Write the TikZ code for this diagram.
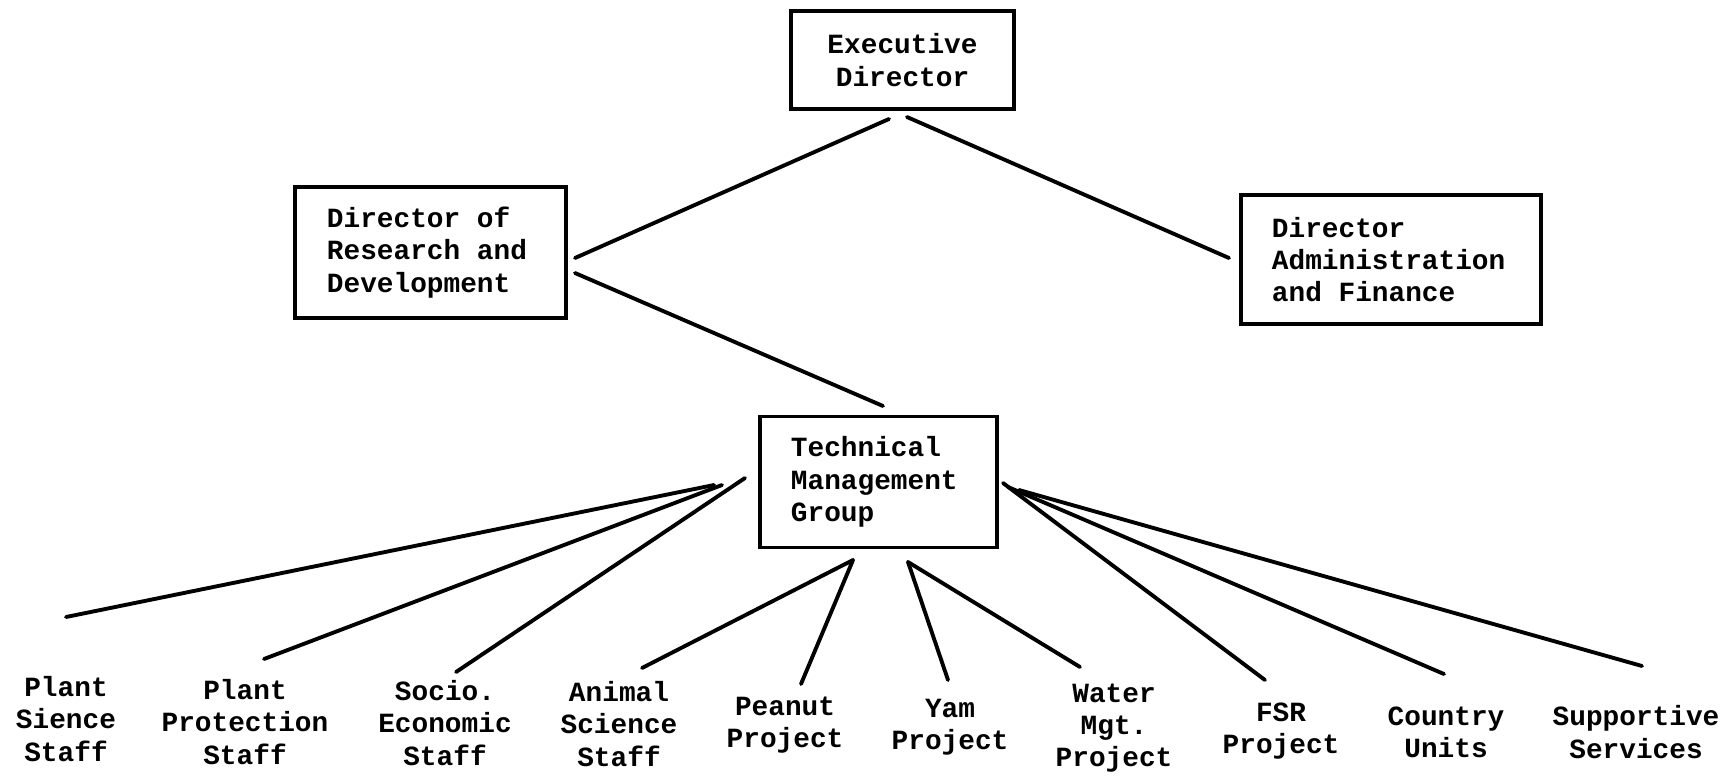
\documentclass[tikz,border=0pt]{standalone}
\usepackage{fontspec}
\setmainfont{Liberation Mono}
% fixed interword space of one character cell
\newcommand\cellspacing{\spaceskip=0.6em\relax}
\begin{document}
\begin{tikzpicture}[x=0.01cm, y=-0.01cm,
  every node/.style={font=\fontsize{7.9}{9.2}\selectfont\bfseries, execute at begin node=\cellspacing},
  unit/.style={draw, line width=1pt, inner ysep=0pt, align=left},
  label/.style={inner sep=0pt, align=center},
  link/.style={line width=1.1pt, line cap=round}]
\useasboundingbox (0,0) rectangle (1728,775);

% organisation boxes
\node[unit, align=center, inner xsep=0.33cm, text width=1.57cm, minimum height=0.98cm] (ed) at (902.5,60) {Executive\\Director};
\node[unit, inner xsep=0.32cm, text width=2.07cm, minimum height=1.31cm] (drd) at (430.5,252.5) {Director of\\Research and\\Development};
\node[unit, inner xsep=0.31cm, text width=2.38cm, minimum height=1.29cm] (daf) at (1391,259.5) {Director\\Administration\\and Finance};
\node[unit, inner xsep=0.31cm, text width=1.75cm, minimum height=1.31cm] (tmg) at (878.5,482) {Technical\\Management\\Group};

% staff and project units
\node[label] (ps)  at (66,719)   {Plant\\Sience\\Staff};
\node[label] (pp)  at (245,722)  {Plant\\Protection\\Staff};
\node[label] (se)  at (445,723)  {Socio.\\Economic\\Staff};
\node[label] (as)  at (619,724)  {Animal\\Science\\Staff};
\node[label] (pn)  at (785,725)  {Peanut\\Project};
\node[label] (ym)  at (950,727)  {Yam\\Project};
\node[label] (wm)  at (1114,728) {Water\\Mgt.\\Project};
\node[label] (fsr) at (1281,731) {FSR\\Project};
\node[label] (cu)  at (1446,732) {Country\\Units};
\node[label] (ss)  at (1636,732) {Supportive\\Services};

% line ends, kept clear of the boxes and labels
\coordinate (ed-l)  at (889,119);
\coordinate (ed-r)  at (907,117);
\coordinate (drd-u) at (575,258);
\coordinate (drd-d) at (575,273);
\coordinate (daf-l) at (1229,258);
\coordinate (tmg-u) at (883,406);
\coordinate (tmg-l1) at (714,485);
\coordinate (tmg-l2) at (722,485);
\coordinate (tmg-l3) at (745,478);
\coordinate (tmg-b1) at (853,560);
\coordinate (tmg-b2) at (908,562);
\coordinate (tmg-r1) at (1003,483);
\coordinate (tmg-r2) at (1008,487);
\coordinate (tmg-r3) at (1019,490);
\coordinate (ps-t)  at (66,617);
\coordinate (pp-t)  at (264,659);
\coordinate (se-t)  at (456,672);
\coordinate (as-t)  at (642,668);
\coordinate (pn-t)  at (801,684);
\coordinate (ym-t)  at (948,680);
\coordinate (wm-t)  at (1080,667);
\coordinate (fsr-t) at (1265,680);
\coordinate (cu-t)  at (1444,674);
\coordinate (ss-t)  at (1642,666);

% reporting lines
\draw[link] (ed-l) -- (drd-u);
\draw[link] (ed-r) -- (daf-l);
\draw[link] (drd-d) -- (tmg-u);
\draw[link] (tmg-l1) -- (ps-t);
\draw[link] (tmg-l2) -- (pp-t);
\draw[link] (tmg-l3) -- (se-t);
\draw[link] (tmg-b1) -- (as-t);
\draw[link] (tmg-b1) -- (pn-t);
\draw[link] (tmg-b2) -- (ym-t);
\draw[link] (tmg-b2) -- (wm-t);
\draw[link] (tmg-r1) -- (fsr-t);
\draw[link] (tmg-r2) -- (cu-t);
\draw[link] (tmg-r3) -- (ss-t);
\end{tikzpicture}
\end{document}
